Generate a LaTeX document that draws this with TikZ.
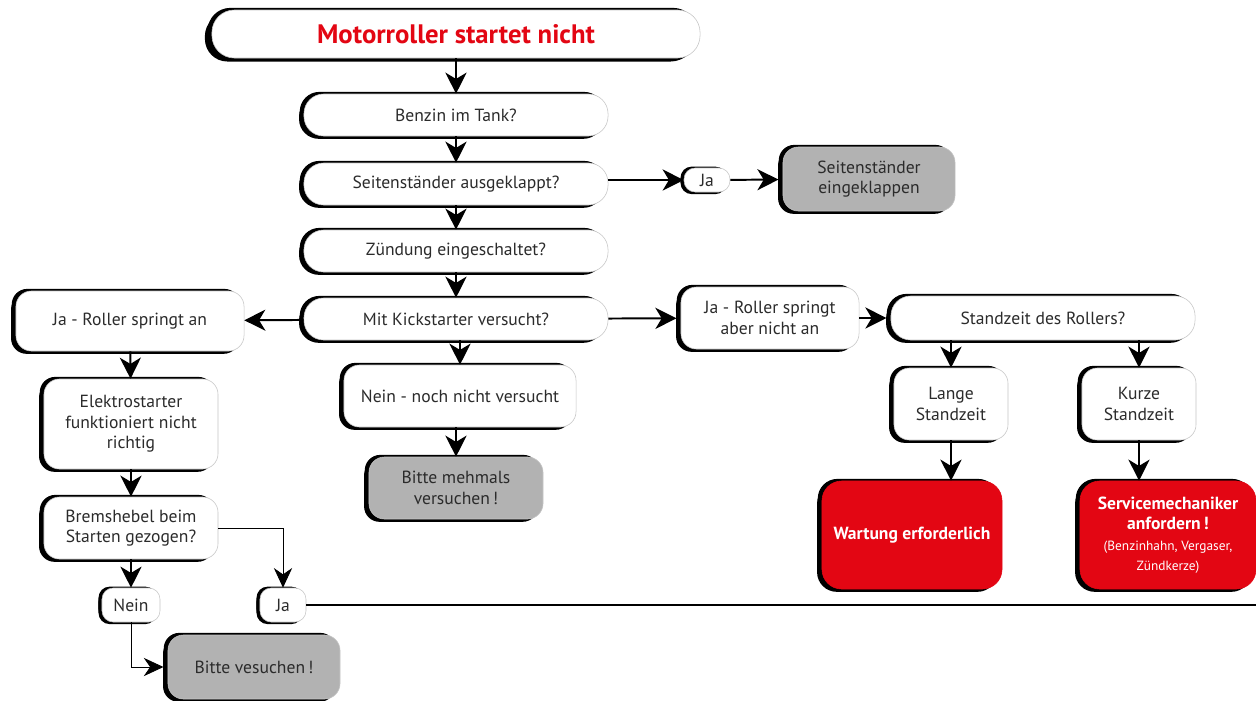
\documentclass[tikz,border=0pt]{standalone}
\usepackage{fontspec}
\setmainfont{PT Sans}
\usetikzlibrary{arrows.meta}
\usetikzlibrary{shadows}
\definecolor{rot}{HTML}{E30613}
\definecolor{grau}{HTML}{B2B2B2}
\definecolor{schrift}{HTML}{2B2B2B}

\begin{document}
\begin{tikzpicture}[x=0.025cm,y=-0.025cm,font=\fontsize{12.5}{14.5}\selectfont,
	box/.style={draw=gray!45,line width=0.4pt,fill=white,rounded corners=9pt,align=center,text=schrift,inner sep=2pt,
		general shadow={fill=black,shadow xshift=-3pt,shadow yshift=1.5pt},
		general shadow={fill=black,shadow xshift=-3.5pt,shadow yshift=-2pt}},
	frage/.style={box,rounded corners=14pt,minimum width=7.6cm,minimum height=1.05cm},
	antwort/.style={box,rounded corners=11pt},
	grauBox/.style={box,fill=grau,rounded corners=11pt},
	rotBox/.style={box,fill=rot,text=white,draw=rot,rounded corners=14pt,minimum width=4.5cm,minimum height=2.7cm},
	marke/.style={draw=gray!45,line width=0.4pt,fill=white,rounded corners=8pt,text=schrift,inner sep=2pt,minimum height=0.85cm,
		general shadow={fill=black,shadow xshift=-2.5pt,shadow yshift=1pt},
		general shadow={fill=black,shadow xshift=-2.5pt,shadow yshift=-1.5pt}},
	pfeil/.style={-{Stealth[length=15pt,width=15pt,inset=4.5pt]},line width=1.4pt},
	duenn/.style={-{Stealth[length=14pt,width=13pt,inset=4.5pt]},line width=0.6pt}]
	\useasboundingbox[fill=white] (0,0) rectangle (1256,700);

	% Start
	\node[box,rounded corners=16pt,minimum width=12.2cm,minimum height=1.2cm,
		general shadow={fill=black,shadow xshift=-5pt,shadow yshift=-2.5pt},
		font=\fontsize{19}{22}\selectfont\bfseries,text=rot] (titel) at (456,34) {Motorroller startet nicht};

	% Fragen in der Mitte
	\node[frage] (benzin) at (456,115) {Benzin im Tank?};
	\node[frage] (staender) at (456,184) {Seitenständer ausgeklappt?};
	\node[frage] (zuendung) at (456,251) {Zündung eingeschaltet?};
	\node[frage] (kick) at (456,319) {Mit Kickstarter versucht?};

	% Seitenstaender
	\node[marke,minimum width=1.15cm,minimum height=0.6cm] (jaS) at (707,180) {Ja};
	\node[grauBox,minimum width=4.3cm,minimum height=1.6cm] (einklappen) at (869,179) {Seitenständer\\eingeklappen};

	% linker Zweig
	\node[antwort,minimum width=5.7cm,minimum height=1.5cm] (springtAn) at (130,321) {Ja - Roller springt an};
	\node[antwort,minimum width=4.35cm,minimum height=2.25cm] (elektro) at (131,424) {Elektrostarter\\funktioniert nicht\\richtig};
	\node[antwort,minimum width=4.35cm,minimum height=1.55cm] (bremse) at (131,528) {Bremshebel beim\\Starten gezogen?};
	\node[marke,minimum width=1.45cm] (nein) at (131,605) {Nein};
	\node[marke,minimum width=1.15cm] (jaB) at (283,605) {Ja};
	\node[grauBox,minimum width=4.3cm,minimum height=1.6cm] (vesuchen) at (254,667) {Bitte vesuchen\,!};

	% mittlerer Zweig
	\node[antwort,minimum width=5.8cm,minimum height=1.55cm] (nochNicht) at (460,396) {Nein - noch nicht versucht};
	\node[grauBox,minimum width=4.35cm,minimum height=1.55cm] (mehrmals) at (456,488) {Bitte mehmals\\versuchen\,!};

	% rechter Zweig
	\node[antwort,minimum width=4.45cm,minimum height=1.55cm] (nichtAn) at (770,318) {Ja - Roller springt\\aber nicht an};
	\node[frage,minimum width=7.6cm,minimum height=1.1cm] (standzeit) at (1043,318) {Standzeit des Rollers?};
	\node[antwort,minimum width=2.85cm,minimum height=1.8cm] (lange) at (951,404) {Lange\\Standzeit};
	\node[antwort,minimum width=2.85cm,minimum height=1.8cm] (kurze) at (1139,404) {Kurze\\Standzeit};
	\node[rotBox,font=\fontsize{12.5}{14.5}\selectfont\bfseries] (wartung) at (912,535) {Wartung erforderlich};
	\node[rotBox,minimum width=4.4cm] (service) at (1168,535) {{\bfseries Servicemechaniker}\\{\bfseries anfordern\,!}\\{\fontsize{9.5}{11}\selectfont(Benzinhahn, Vergaser,}\\{\fontsize{9.5}{11}\selectfont Zündkerze)}};

	\coordinate (rand) at (1256,605);

	% Verbindungen
	\draw[pfeil] (titel) -- (benzin);
	\draw[pfeil] (benzin) -- (staender);
	\draw[pfeil] (staender) -- (zuendung);
	\draw[pfeil] (zuendung) -- (kick);
	\draw[pfeil] (staender.east |- jaS) -- (jaS);
	\draw[pfeil,shorten >=3pt] (jaS) -- (einklappen);
	\draw[pfeil] (kick) -- (springtAn);
	\draw[pfeil,shorten >=3pt] (kick) -- (nichtAn);
	\draw[pfeil,shorten >=3pt] (nichtAn) -- (standzeit);
	\draw[pfeil] (lange |- standzeit.south) -- (lange);
	\draw[pfeil] (kurze |- standzeit.south) -- (kurze);
	\draw[pfeil] (lange) -- (lange |- wartung.north);
	\draw[pfeil] (kurze) -- (kurze |- service.north);
	\draw[pfeil] (kick.south -| nochNicht.north) -- (nochNicht);
	\draw[pfeil] (nochNicht.south -| mehrmals) -- (mehrmals);
	\draw[pfeil] (springtAn) -- (elektro);
	\draw[pfeil] (elektro) -- (bremse);
	\draw[pfeil] (bremse) -- (nein);
	\draw[duenn] (bremse.east) -| (jaB);
	\draw[duenn,shorten >=3pt] (nein) |- (vesuchen);
	\draw[line width=1.2pt] (jaB) -- (rand);
\end{tikzpicture}
\end{document}
